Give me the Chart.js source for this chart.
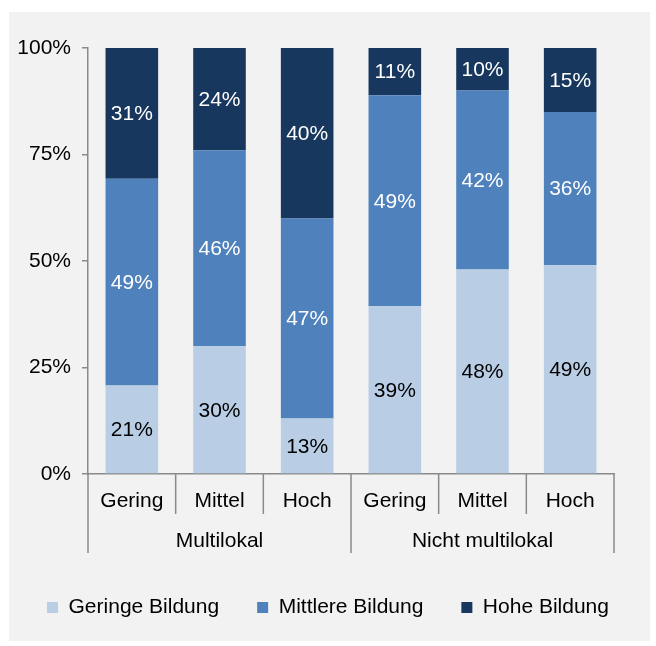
<!DOCTYPE html>
<html>
<head>
<meta charset="utf-8">
<script src="https://cdn.jsdelivr.net/npm/chart.js@4"></script>
<style>
  html, body { margin: 0; padding: 0; background: #fff; }
  #wrap { width: 656px; height: 646px; }
</style>
</head>
<body>
<div id="wrap"><canvas id="bildungChart" width="656" height="646"></canvas></div>
<script>
// categories and groups
const categories = ['Gering', 'Mittel', 'Hoch', 'Gering', 'Mittel', 'Hoch'];
const groups = ['Multilokal', 'Nicht multilokal'];
const seriesNames = ['Geringe Bildung', 'Mittlere Bildung', 'Hohe Bildung'];

// shares in percent as printed on the bars
const geringeBildung = [21, 30, 13, 39, 48, 49];
const mittlereBildung = [49, 46, 47, 49, 42, 36];
const hoheBildung = [31, 24, 40, 11, 10, 15];

const yTicks = [0, 0.25, 0.5, 0.75, 1];

const colors = ['#b9cde5', '#4f81bd', '#17375e'];
const FONT = '"Liberation Sans", Arial, sans-serif';

// 100% stacking: each bar is scaled to its own total
const totals = categories.map((c, i) => geringeBildung[i] + mittlereBildung[i] + hoheBildung[i]);
const series = [geringeBildung, mittlereBildung, hoheBildung];

const bgPlugin = {
  id: 'bg',
  beforeDraw(chart) {
    const c = chart.ctx;
    c.save();
    c.fillStyle = '#ffffff';
    c.fillRect(0, 0, chart.width, chart.height);
    c.fillStyle = '#f2f2f2';
    c.fillRect(9, 12, 641, 629);
    c.restore();
  }
};

const labelPlugin = {
  id: 'barLabels',
  afterDatasetsDraw(chart) {
    const c = chart.ctx;
    c.save();
    c.font = '21px ' + FONT;
    c.textAlign = 'center';
    c.textBaseline = 'middle';
    chart.data.datasets.forEach((ds, di) => {
      const meta = chart.getDatasetMeta(di);
      meta.data.forEach((bar, i) => {
        c.fillStyle = di === 0 ? '#000000' : '#ffffff';
        c.fillText(ds.raw[i] + '%', bar.x, (bar.y + bar.base) / 2 + 1);
      });
    });
    c.restore();
  }
};

const groupAxisPlugin = {
  id: 'groupAxis',
  afterDraw(chart) {
    const x = chart.scales.x;
    const c = chart.ctx;
    const top = chart.chartArea.bottom;
    const step = (x.right - x.left) / categories.length;
    c.save();
    c.strokeStyle = '#8a8a8a';
    c.lineWidth = 1.5;
    for (let i = 0; i <= categories.length; i++) {
      const px = x.left + i * step;
      const long = i % 3 === 0;
      c.beginPath();
      c.moveTo(px, top);
      c.lineTo(px, long ? top + 79 : top + 40);
      c.stroke();
    }
    c.font = '21px ' + FONT;
    c.fillStyle = '#000000';
    c.textAlign = 'center';
    c.textBaseline = 'middle';
    groups.forEach((g, gi) => {
      const cx = x.left + (gi * 3 + 1.5) * step;
      c.fillText(g, cx, top + 67);
    });
    c.restore();
  }
};

const ctx = document.getElementById('bildungChart').getContext('2d');
const bildungChart = new Chart(ctx, {
  type: 'bar',
  data: {
    labels: categories,
    datasets: series.map((vals, si) => ({
      label: seriesNames[si],
      data: vals.map((v, i) => v / totals[i]),
      raw: vals,
      backgroundColor: colors[si],
      borderWidth: 0,
      categoryPercentage: 1,
      barPercentage: 0.6
    }))
  },
  options: {
    responsive: false,
    animation: false,
    layout: { padding: { left: 0, right: 0, top: 48, bottom: 18 } },
    scales: {
      x: {
        stacked: true,
        grid: { display: false, drawTicks: false },
        border: { display: true, color: '#8a8a8a', width: 1.5 },
        ticks: { font: { family: FONT, size: 21 }, color: '#000000', padding: 15 },
        afterFit(s) { s.height = 85; }
      },
      y: {
        stacked: true,
        min: 0,
        max: 1,
        afterBuildTicks(s) { s.ticks = yTicks.map(v => ({ value: v })); },
        grid: { drawOnChartArea: false, drawTicks: true, tickLength: 6, color: '#8a8a8a', lineWidth: 1.5 },
        border: { display: true, color: '#8a8a8a', width: 1.5 },
        ticks: {
          font: { family: FONT, size: 21 },
          color: '#000000',
          padding: 11,
          callback: v => Math.round(v * 100) + '%'
        },
        afterFit(s) { s.width = 88; }
      },
      // empty right-hand spacer so the legend stays centred on the whole canvas
      yRight: {
        position: 'right',
        display: true,
        grid: { display: false, drawTicks: false },
        border: { display: false },
        ticks: { display: false },
        afterFit(s) { s.width = 42; }
      }
    },
    plugins: {
      legend: {
        position: 'bottom',
        labels: {
          font: { family: FONT, size: 21 },
          color: '#000000',
          boxWidth: 11,
          boxHeight: 11,
          padding: 38
        }
      },
      tooltip: { enabled: false }
    }
  },
  plugins: [bgPlugin, labelPlugin, groupAxisPlugin]
});
</script>
</body>
</html>
